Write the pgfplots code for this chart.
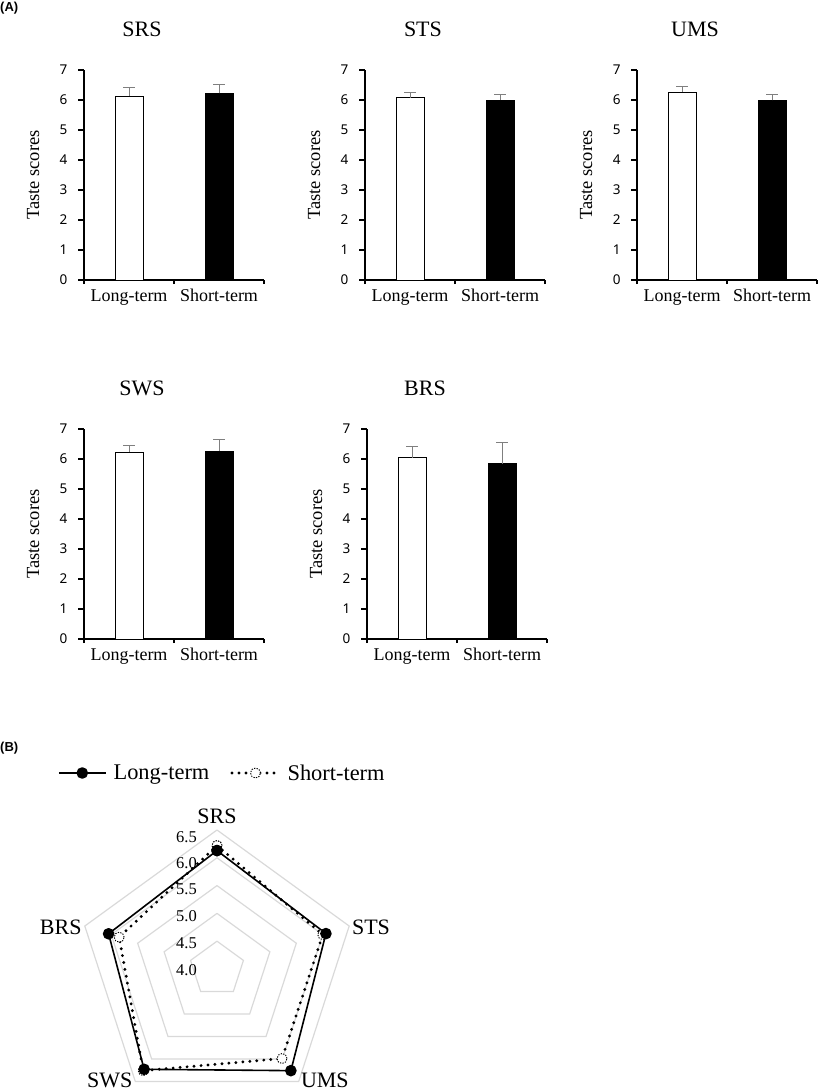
\documentclass[border=0pt]{standalone}
\usepackage{fontspec}
\setmainfont{Liberation Serif}
\newfontfamily\numfont{Noto Sans}
\newfontfamily\labfont{Liberation Sans}
\usepackage{pgfplots}
\usepackage{pgfplotstable}
\pgfplotsset{compat=1.18}
\definecolor{gridc}{HTML}{D9D9D9}
\definecolor{errgray}{HTML}{7F7F7F}

\pgfplotsset{
  tastebar/.style={
    scale only axis, width=180pt, height=210pt, anchor=south west,
    xmin=-0.5, xmax=1.5, ymin=0, ymax=7,
    axis x line*=bottom, axis y line*=left,
    axis line style={line width=2.6pt, black},
    xtick style={black, line width=2.2pt},
    tick align=outside, major tick length=4pt,
    xtick={-0.5,0.5,1.5}, xticklabels={},
    extra x ticks={0,1}, extra x tick labels={Long-term,Short-term},
    extra x tick style={xtick style={draw=none},
      xticklabel style={anchor=base, yshift=-17pt, font=\fontsize{18}{20}\selectfont}},
    ytick={0,1,2,3,4,5,6,7},
    /pgf/number format/assume math mode=true,
    yticklabel style={font=\numfont\fontsize{13.5}{15}\selectfont, xshift=-9pt},
    ylabel={Taste scores},
    ylabel style={font=\fontsize{18.5}{20}\selectfont, at={(axis description cs:-0.283,0.5)}, anchor=center},
    title style={font=\fontsize{22}{24}\selectfont, at={(axis description cs:0.322,1.167)}, anchor=center},
    clip=false,
    after end axis/.code={
      \draw[black, line width=2.2pt] (axis description cs:0,0) -- ++(-6pt,0pt);
      \draw[black, line width=2.2pt] (axis description cs:0,0.142857) -- ++(-6pt,0pt);
      \draw[black, line width=2.2pt] (axis description cs:0,0.285714) -- ++(-6pt,0pt);
      \draw[black, line width=2.2pt] (axis description cs:0,0.428571) -- ++(-6pt,0pt);
      \draw[black, line width=2.2pt] (axis description cs:0,0.571429) -- ++(-6pt,0pt);
      \draw[black, line width=2.2pt] (axis description cs:0,0.714286) -- ++(-6pt,0pt);
      \draw[black, line width=2.2pt] (axis description cs:0,0.857143) -- ++(-6pt,0pt);
      \draw[black, line width=2.2pt] (axis description cs:0,1) -- ++(-6pt,0pt);
    },
  },
  barcommon/.style={ybar, bar width=28pt, bar shift=0pt, draw=black, line width=1pt,
    error bars/y dir=plus, error bars/y explicit,
    error bars/error bar style={line width=1pt, color=errgray},
    error bars/error mark options={color=errgray, line width=1pt, mark size=6pt, rotate=90}},
  tastelong/.style={fill=white, barcommon},
  tasteshort/.style={fill=black, barcommon},
}

\pgfplotstableread{
ang long short
90 6.13 6.22
18 6.06 6.00
-54 6.26 5.99
-126 6.23 6.26
162 6.05 5.85
90 6.13 6.22
}\radardata

\begin{document}
\begin{tikzpicture}
\useasboundingbox (0pt,0pt) rectangle (827pt,-1092pt);
\node[anchor=west, inner sep=0pt, font=\labfont\bfseries\fontsize{13}{14}\selectfont] at (0pt,-8pt) {(A)};
\node[anchor=west, inner sep=0pt, font=\labfont\bfseries\fontsize{13}{14}\selectfont] at (0pt,-748pt) {(B)};

% SRS
\begin{axis}[tastebar, at={(84pt,-280pt)}, title={SRS}]
\addplot[tastelong] coordinates {(0,6.13) +- (0,0.28)};
\addplot[tasteshort] coordinates {(1,6.22) +- (0,0.29)};
\end{axis}
% STS
\begin{axis}[tastebar, at={(365pt,-280pt)}, title={STS}]
\addplot[tastelong] coordinates {(0,6.07) +- (0,0.17)};
\addplot[tasteshort] coordinates {(1,6.00) +- (0,0.19)};
\end{axis}
% UMS
\begin{axis}[tastebar, at={(637pt,-280pt)}, title={UMS}]
\addplot[tastelong] coordinates {(0,6.26) +- (0,0.20)};
\addplot[tasteshort] coordinates {(1,5.99) +- (0,0.19)};
\end{axis}
% SWS
\begin{axis}[tastebar, at={(84pt,-639pt)}, title={SWS}]
\addplot[tastelong] coordinates {(0,6.23) +- (0,0.21)};
\addplot[tasteshort] coordinates {(1,6.26) +- (0,0.40)};
\end{axis}
% BRS
\begin{axis}[tastebar, at={(367pt,-639pt)}, title={BRS}]
\addplot[tastelong] coordinates {(0,6.05) +- (0,0.37)};
\addplot[tasteshort] coordinates {(1,5.85) +- (0,0.70)};
\end{axis}

% Radar
\begin{axis}[at={(50.2pt,-1091.3pt)}, anchor=south west, scale only axis,
  width=333.6pt, height=289.12pt, xmin=-3, xmax=3, ymin=-2.2, ymax=3,
  hide axis, clip=false,
  legend columns=2, reverse legend,
  legend style={draw=none, fill=none, inner sep=0pt, outer sep=0pt,
    at={(axis cs:-2.86,3.525)}, anchor=west,
    font=\fontsize{22.4}{24}\selectfont,
    /tikz/every odd column/.append style={column sep=5pt},
    /tikz/every even column/.append style={column sep=19pt}},
  legend image code/.code={\draw[mark repeat=2, mark phase=2, #1] plot coordinates {(0pt,0pt) (23.5pt,0pt) (47pt,0pt)};},
]
\addplot[gridc, line width=1.2pt, data cs=polar, forget plot] coordinates {(90,0.5)(18,0.5)(-54,0.5)(-126,0.5)(162,0.5)(90,0.5)};
\addplot[gridc, line width=1.2pt, data cs=polar, forget plot] coordinates {(90,1.0)(18,1.0)(-54,1.0)(-126,1.0)(162,1.0)(90,1.0)};
\addplot[gridc, line width=1.2pt, data cs=polar, forget plot] coordinates {(90,1.5)(18,1.5)(-54,1.5)(-126,1.5)(162,1.5)(90,1.5)};
\addplot[gridc, line width=1.2pt, data cs=polar, forget plot] coordinates {(90,2.0)(18,2.0)(-54,2.0)(-126,2.0)(162,2.0)(90,2.0)};
\addplot[gridc, line width=1.2pt, data cs=polar, forget plot] coordinates {(90,2.5)(18,2.5)(-54,2.5)(-126,2.5)(162,2.5)(90,2.5)};

\addplot[black, line width=3.2pt, line cap=round, dash pattern=on 0pt off 7pt, data cs=polar,
  mark=*, mark size=5pt, mark options={solid, fill=white, draw=black, line width=0.9pt, line cap=butt, dash pattern=on 1.3pt off 1.3pt}]
  table[x=ang, y expr=\thisrow{short}-4] {\radardata};
\addlegendentry{Short-term}
\addplot[black, line width=1.6pt, line join=round, data cs=polar, mark=*, mark size=5pt, mark options={solid, fill=black}]
  table[x=ang, y expr=\thisrow{long}-4] {\radardata};
\addlegendentry{Long-term}

\begin{scope}[font=\fontsize{16.5}{18}\selectfont]
\node[anchor=east, inner sep=0pt] at (axis cs:-0.36,2.37) {6.5};
\node[anchor=east, inner sep=0pt] at (axis cs:-0.36,1.91) {6.0};
\node[anchor=east, inner sep=0pt] at (axis cs:-0.36,1.44) {5.5};
\node[anchor=east, inner sep=0pt] at (axis cs:-0.36,0.95) {5.0};
\node[anchor=east, inner sep=0pt] at (axis cs:-0.36,0.47) {4.5};
\node[anchor=east, inner sep=0pt] at (axis cs:-0.36,-0.02) {4.0};
\end{scope}
\begin{scope}[font=\fontsize{22}{24}\selectfont]
\node at (axis cs:0,2.75) {SRS};
\node at (axis cs:2.77,0.755) {STS};
\node at (axis cs:-2.81,0.755) {BRS};
\node[anchor=base, inner sep=0pt] at (axis cs:1.94,-2.13) {UMS};
\node[anchor=base, inner sep=0pt] at (axis cs:-1.93,-2.13) {SWS};
\end{scope}
\end{axis}
\end{tikzpicture}
\end{document}
